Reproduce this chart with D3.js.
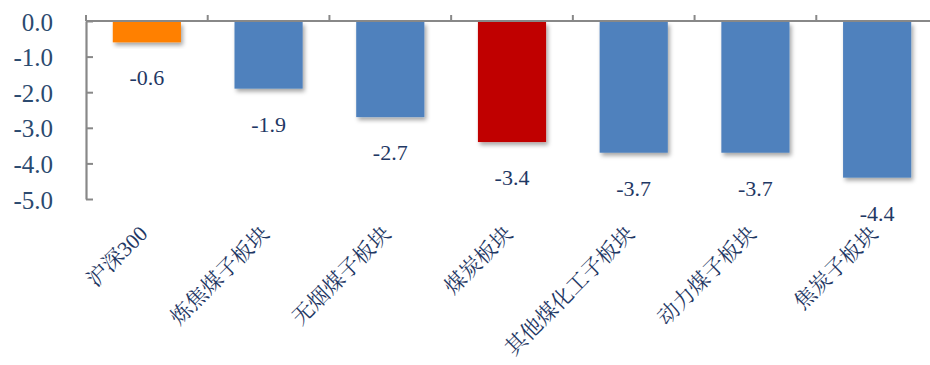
<!DOCTYPE html>
<html><head><meta charset="utf-8">
<script src="https://cdn.jsdelivr.net/npm/d3@7"></script>
<style>html,body{margin:0;padding:0;background:#fff;}svg{display:block;}</style>
</head><body>
<svg id="chart" width="930" height="365"></svg>
<script>
const categories = ["沪深300","炼焦煤子板块","无烟煤子板块","煤炭板块","其他煤化工子板块","动力煤子板块","焦炭子板块"];
const values = [-0.6, -1.9, -2.7, -3.4, -3.7, -3.7, -4.4];
const barColors = ["#FF8000","#4F81BD","#4F81BD","#C00000","#4F81BD","#4F81BD","#4F81BD"];
const yTicks = [0, -1, -2, -3, -4, -5];

(function(){
const svg = d3.select("#chart");
const mLeft = 86, mRight = 938, mTop = 21, mBottom = 199;

const defs = svg.append("defs");
const f = defs.append("filter").attr("id","shadow").attr("x","-20%").attr("y","-20%").attr("width","150%").attr("height","150%");
f.append("feDropShadow").attr("dx",2).attr("dy",3).attr("stdDeviation",2.2).attr("flood-color","#000").attr("flood-opacity",0.35);

const x = d3.scaleBand().domain(categories).range([mLeft, mRight]).paddingInner(0.44).paddingOuter(0.22);
const y = d3.scaleLinear().domain([-5, 0]).range([mBottom, mTop]);
const step = x.step();

// bars
svg.append("g").selectAll("rect").data(values).join("rect")
  .attr("x", (d,i) => x(categories[i]))
  .attr("width", x.bandwidth())
  .attr("y", y(0) + 1)
  .attr("height", d => y(d) - y(0) - 1)
  .attr("fill", (d,i) => barColors[i])
  .attr("filter", "url(#shadow)");

// y axis
const yAxis = d3.axisLeft(y).tickValues(yTicks).tickSizeInner(-7).tickSizeOuter(0).tickPadding(33)
  .tickFormat(d => d.toFixed(1));
const gy = svg.append("g").attr("transform", `translate(${mLeft},0)`).call(yAxis);
gy.select(".domain").attr("stroke", "#888").attr("stroke-width", 2.2);
gy.selectAll(".tick line").attr("stroke", "#888").attr("stroke-width", 2);
gy.selectAll(".tick text").attr("fill", "#2B4A6F").attr("font-family", "'Liberation Serif', serif")
  .attr("font-size", 25).attr("dy", "0.36em");

// x axis line (top) with boundary ticks
svg.append("line").attr("x1", mLeft).attr("x2", mRight).attr("y1", y(0)).attr("y2", y(0))
  .attr("stroke", "#888").attr("stroke-width", 2.2);
const bounds = d3.range(categories.length).map(i => x(categories[i]) - x.paddingOuter() * step);
svg.append("g").selectAll("line").data(bounds).join("line")
  .attr("x1", d => d).attr("x2", d => d).attr("y1", y(0) - 6).attr("y2", y(0))
  .attr("stroke", "#888").attr("stroke-width", 2);

// data labels
svg.append("g").selectAll("text").data(values).join("text")
  .attr("x", (d,i) => x(categories[i]) + x.bandwidth() / 2)
  .attr("y", d => y(d) + 43)
  .attr("text-anchor", "middle")
  .attr("font-family", "'Liberation Serif', serif")
  .attr("font-size", 22)
  .attr("fill", "#1F3864")
  .text(d => d.toFixed(1));

// category labels
svg.append("g").selectAll("text").data(categories).join("text")
  .attr("transform", d => `translate(${x(d) + x.bandwidth() / 2 + 2},235) rotate(-45)`)
  .attr("text-anchor", "end")
  .attr("font-family", "'Liberation Serif', 'Noto Serif CJK SC', 'Noto Sans CJK SC', serif")
  .attr("font-size", 21.5)
  .attr("fill", "#1F3864")
  .text(d => d);
})();
</script>
</body></html>
